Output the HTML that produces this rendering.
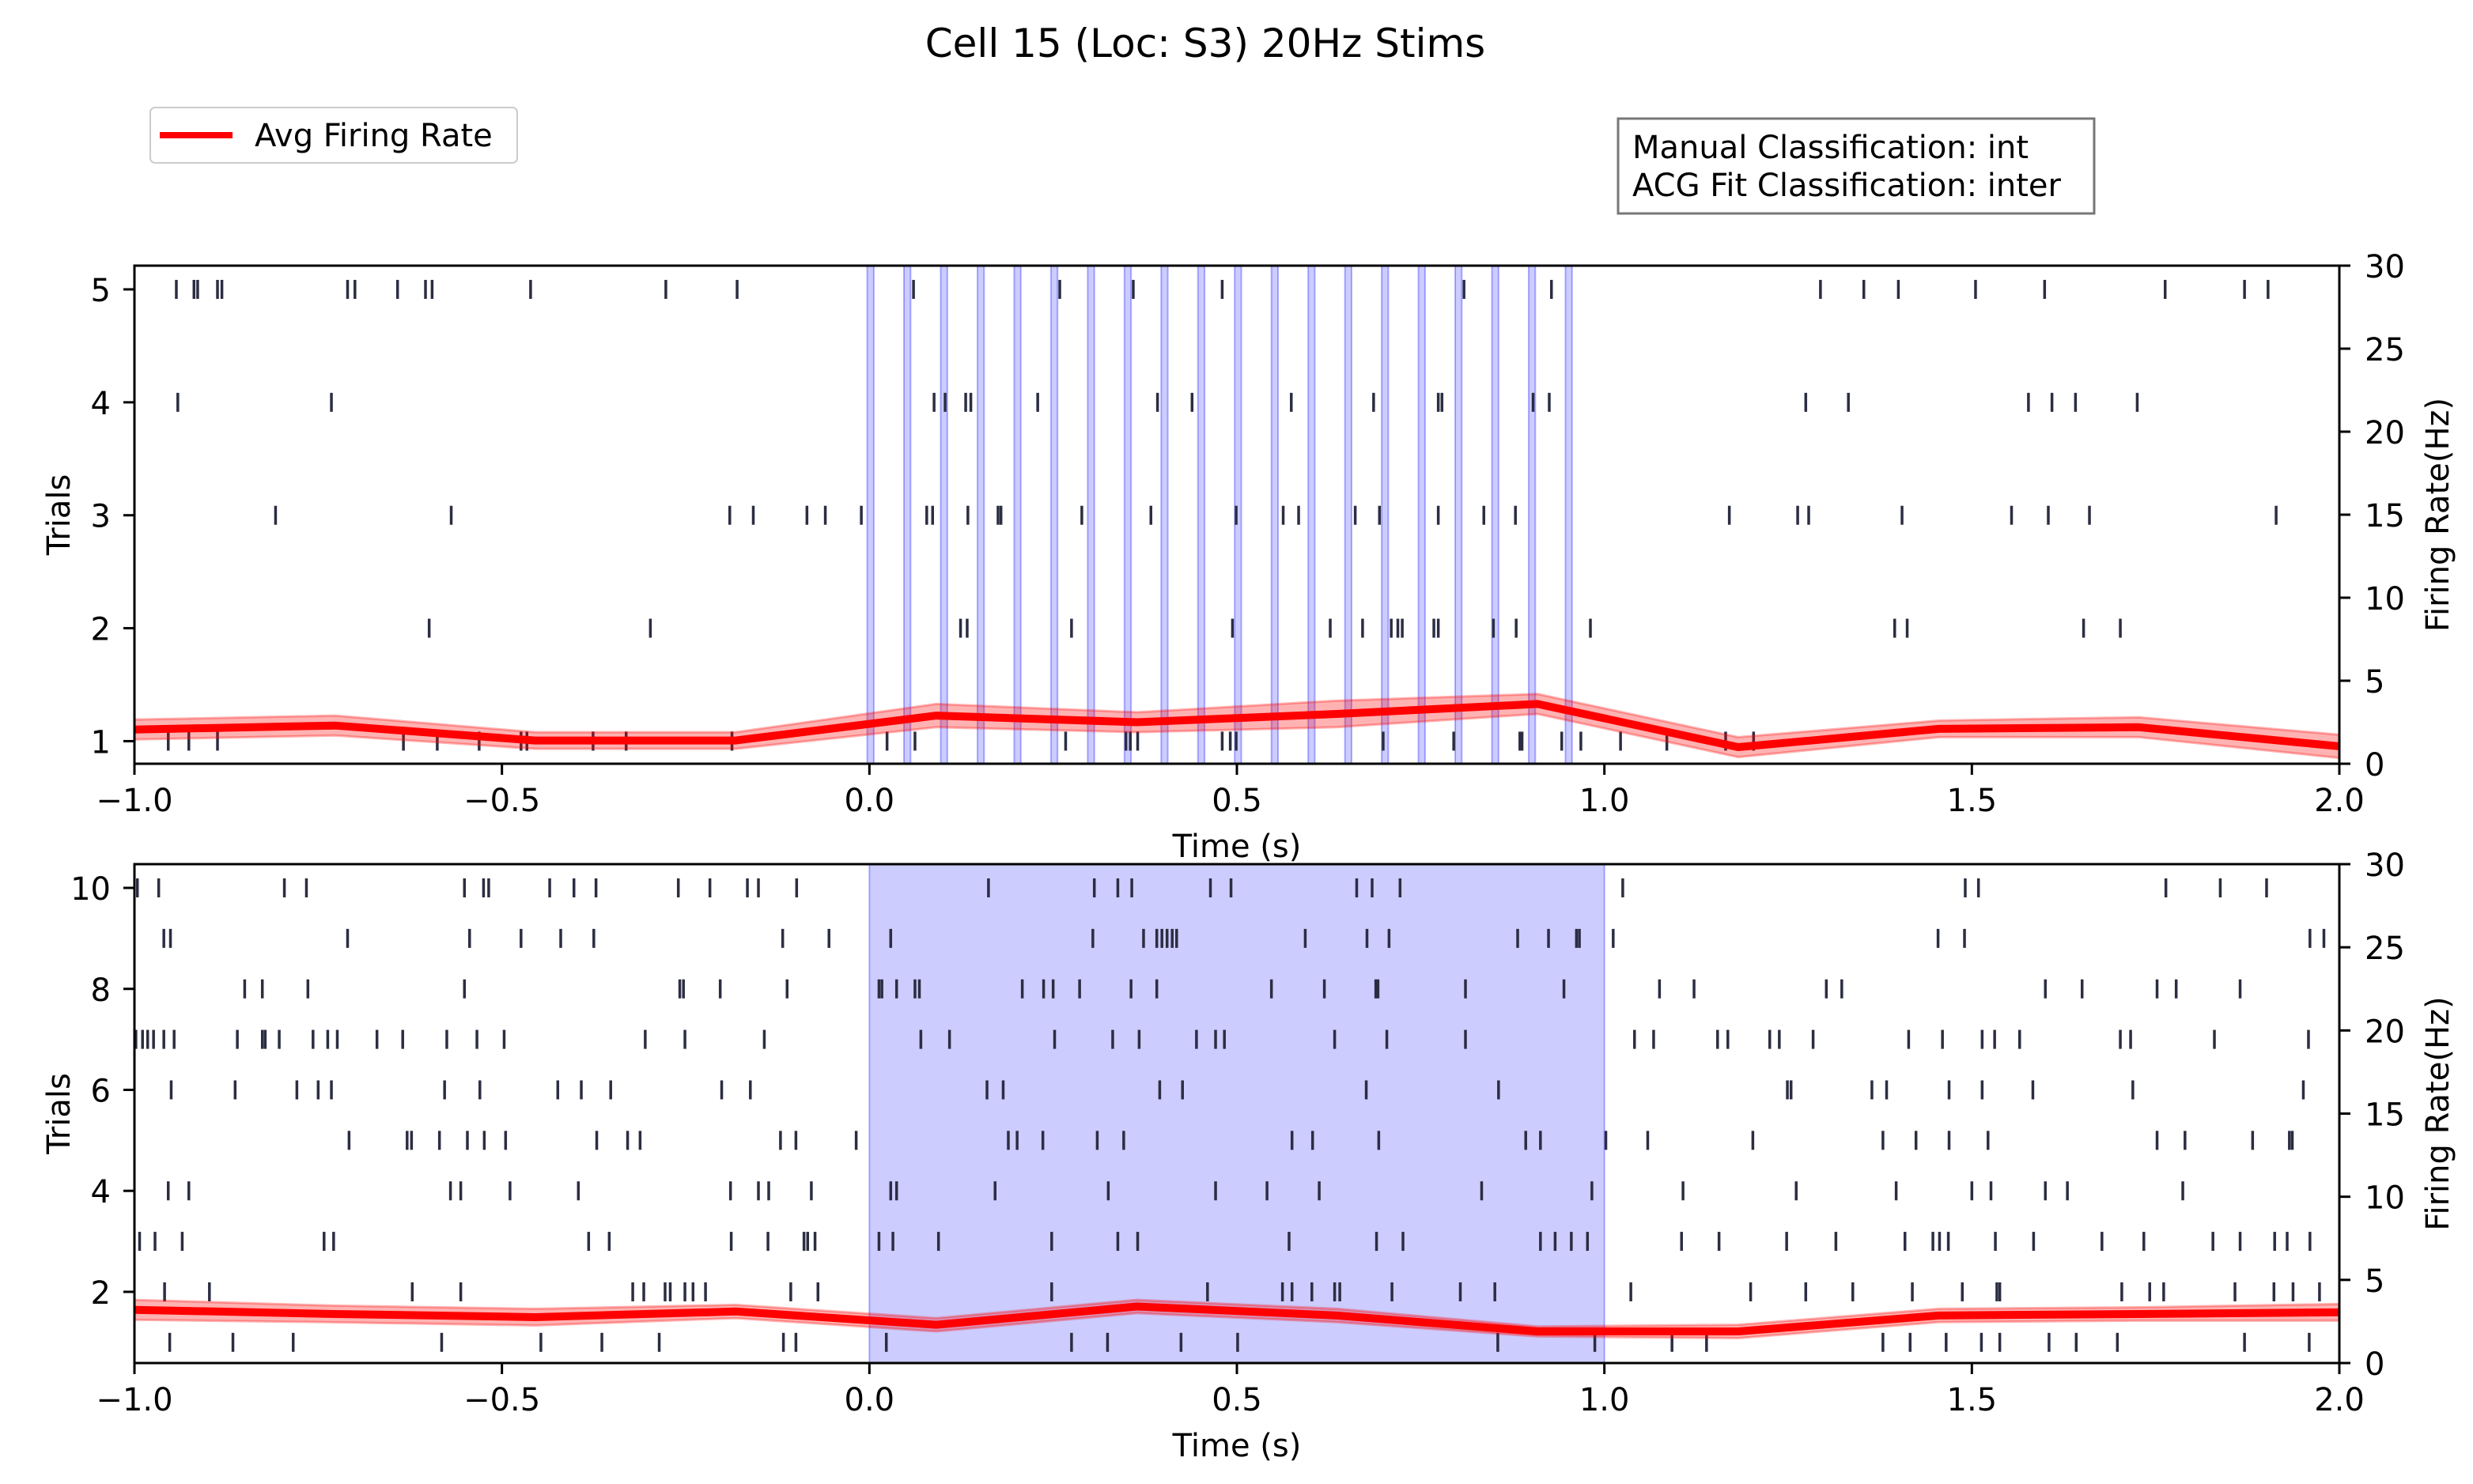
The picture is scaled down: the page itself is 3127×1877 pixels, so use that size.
<!DOCTYPE html>
<html><head><meta charset="utf-8">
<style>
html,body{margin:0;padding:0;background:#fff;}
svg{display:block;font-family:"DejaVu Sans","Liberation Sans",sans-serif;}
</style></head>
<body>
<svg id="fig" width="3127" height="1877" viewBox="0 0 3127 1877" xmlns="http://www.w3.org/2000/svg">
<rect x="0" y="0" width="3127" height="1877" fill="#fff"/>
<text x="1524" y="72" font-size="50" text-anchor="middle">Cell 15 (Loc: S3) 20Hz Stims</text>
<g>
<rect x="190" y="136" width="464" height="70" rx="6" fill="#fff" stroke="#ccc" stroke-width="2"/>
<line x1="202" y1="171" x2="294" y2="171" stroke="#ff0000" stroke-width="8"/>
<text x="322" y="185" font-size="40">Avg Firing Rate</text>
</g>
<g>
<rect x="2046" y="150" width="602" height="120" fill="#fff" stroke="#777" stroke-width="3"/>
<text x="2064" y="200" font-size="40">Manual Classification: int</text>
<text x="2064" y="248" font-size="40">ACG Fit Classification: inter</text>
</g>
<g id="top"></g>
<g id="bot"></g>
</svg>
<script>
// ---- data ----
var rateTimes = [-1, -0.727, -0.455, -0.182, 0.091, 0.364, 0.636, 0.909, 1.182, 1.455, 1.727, 2.0];
var topRate = [2.06, 2.3, 1.4, 1.4, 2.9, 2.5, 3.0, 3.6, 1.0, 2.1, 2.2, 1.05];
var topErr = [0.6, 0.6, 0.5, 0.5, 0.7, 0.6, 0.8, 0.6, 0.6, 0.5, 0.6, 0.7];
var botRate = [3.2, 2.95, 2.76, 3.1, 2.3, 3.4, 2.86, 1.9, 1.9, 2.86, 2.95, 3.05];
var botErr = [0.6, 0.5, 0.5, 0.4, 0.4, 0.4, 0.4, 0.3, 0.4, 0.4, 0.4, 0.5];
var xTicks = [-1.0, -0.5, 0.0, 0.5, 1.0, 1.5, 2.0];
var xTickLabels = ["\u22121.0", "\u22120.5", "0.0", "0.5", "1.0", "1.5", "2.0"];
var topTrialTicks = [1, 2, 3, 4, 5];
var botTrialTicks = [2, 4, 6, 8, 10];
var rateTicks = [0, 5, 10, 15, 20, 25, 30];
var pulseStarts = [0,0.05,0.1,0.15,0.2,0.25,0.3,0.35,0.4,0.45,0.5,0.55,0.6,0.65,0.7,0.75,0.8,0.85,0.9,0.95];
var topSpikes = [
 [-0.954,-0.926,-0.887,-0.634,-0.588,-0.531,-0.474,-0.466,-0.376,-0.331,-0.187,0.024,0.062,0.267,0.349,0.355,0.365,0.480,0.491,0.499,0.699,0.795,0.885,0.888,0.942,0.968,1.022,1.085,1.165,1.203],
 [-0.599,-0.298,0.124,0.133,0.275,0.494,0.627,0.671,0.710,0.719,0.725,0.768,0.774,0.849,0.880,0.981,1.395,1.412,1.652,1.702],
 [-0.808,-0.569,-0.190,-0.158,-0.085,-0.060,-0.011,0.078,0.086,0.134,0.175,0.179,0.289,0.383,0.499,0.563,0.584,0.661,0.694,0.774,0.836,0.879,1.170,1.263,1.278,1.405,1.554,1.604,1.660,1.914],
 [-0.941,-0.732,0.088,0.103,0.131,0.138,0.229,0.392,0.439,0.574,0.686,0.774,0.779,0.903,0.925,1.274,1.332,1.577,1.609,1.641,1.725],
 [-0.943,-0.919,-0.914,-0.887,-0.881,-0.710,-0.700,-0.642,-0.604,-0.595,-0.461,-0.277,-0.180,0.060,0.259,0.359,0.480,0.809,0.928,1.294,1.353,1.400,1.505,1.599,1.763,1.871,1.903]
];
var botSpikes = [
 [-0.952,-0.866,-0.784,-0.582,-0.447,-0.364,-0.286,-0.117,-0.100,0.023,0.275,0.324,0.424,0.501,0.855,0.987,1.092,1.139,1.379,1.416,1.465,1.513,1.538,1.605,1.642,1.698,1.871,1.959],
 [-0.959,-0.898,-0.622,-0.556,-0.322,-0.307,-0.278,-0.271,-0.251,-0.240,-0.223,-0.107,-0.070,0.248,0.460,0.562,0.575,0.602,0.633,0.640,0.711,0.804,0.851,1.036,1.199,1.274,1.338,1.419,1.487,1.534,1.538,1.704,1.742,1.761,1.858,1.911,1.937,1.973],
 [-0.993,-0.972,-0.935,-0.742,-0.729,-0.382,-0.354,-0.188,-0.138,-0.089,-0.084,-0.074,0.013,0.032,0.094,0.248,0.338,0.365,0.571,0.690,0.726,0.913,0.933,0.955,0.977,1.105,1.156,1.248,1.315,1.409,1.447,1.456,1.468,1.532,1.584,1.677,1.734,1.828,1.865,1.912,1.929,1.960],
 [-0.954,-0.926,-0.570,-0.556,-0.489,-0.396,-0.189,-0.151,-0.137,-0.079,0.029,0.037,0.171,0.325,0.471,0.541,0.612,0.833,0.983,1.107,1.261,1.397,1.500,1.526,1.600,1.630,1.787],
 [-0.708,-0.629,-0.623,-0.585,-0.547,-0.524,-0.495,-0.371,-0.329,-0.312,-0.121,-0.100,-0.018,0.189,0.201,0.236,0.310,0.346,0.575,0.603,0.693,0.893,0.913,1.002,1.059,1.202,1.379,1.424,1.469,1.522,1.752,1.790,1.882,1.932,1.936],
 [-0.950,-0.863,-0.779,-0.750,-0.732,-0.578,-0.530,-0.424,-0.392,-0.352,-0.201,-0.162,0.160,0.182,0.395,0.426,0.676,0.856,1.249,1.254,1.364,1.384,1.469,1.514,1.583,1.719,1.951],
 [-0.998,-0.989,-0.982,-0.974,-0.960,-0.946,-0.860,-0.826,-0.822,-0.803,-0.757,-0.737,-0.724,-0.670,-0.635,-0.575,-0.534,-0.497,-0.305,-0.251,-0.143,0.070,0.109,0.252,0.331,0.367,0.445,0.471,0.483,0.633,0.704,0.811,1.041,1.067,1.154,1.168,1.225,1.238,1.284,1.414,1.460,1.514,1.531,1.565,1.702,1.716,1.830,1.958],
 [-0.850,-0.826,-0.764,-0.551,-0.258,-0.253,-0.203,-0.112,0.013,0.017,0.037,0.062,0.068,0.208,0.237,0.250,0.286,0.356,0.391,0.547,0.619,0.689,0.692,0.811,0.945,1.075,1.122,1.302,1.323,1.600,1.650,1.752,1.778,1.865],
 [-0.960,-0.951,-0.710,-0.544,-0.474,-0.420,-0.375,-0.118,-0.055,0.029,0.304,0.373,0.391,0.398,0.405,0.412,0.418,0.593,0.677,0.707,0.882,0.924,0.962,0.966,1.012,1.454,1.490,1.960,1.979],
 [-0.996,-0.967,-0.796,-0.766,-0.551,-0.525,-0.518,-0.435,-0.402,-0.372,-0.260,-0.217,-0.166,-0.151,-0.099,0.162,0.306,0.338,0.357,0.464,0.492,0.663,0.684,0.722,1.025,1.491,1.509,1.764,1.838,1.901]
];
// ---- drawing ----
var NS = "http://www.w3.org/2000/svg";
function mk(parent, tag, attrs) {
  var e = document.createElementNS(NS, tag);
  for (var k in attrs) e.setAttribute(k, attrs[k]);
  parent.appendChild(e);
  return e;
}
function panel(g, top, bottom, ymin, ymax, trialTicks, spikes, rate, err, mode) {
  var L = 170, R = 2958;
  function xs(t) { return L + (t + 1) / 3 * (R - L); }
  function ys(v) { return bottom - (v - ymin) / (ymax - ymin) * (bottom - top); }
  function yr(h) { return bottom - h / 30 * (bottom - top); }
  if (mode === "pulses") {
    pulseStarts.forEach(function (p) {
      var r = mk(g, "rect", {x: xs(p - 0.003), y: top, width: xs(0.009) - xs(0), height: bottom - top, fill: "rgba(0,0,255,0.2)", stroke: "rgba(0,0,255,0.3)", "stroke-width": 2});
      
      
    });
  } else {
    var r = mk(g, "rect", {x: xs(0), y: top, width: xs(1) - xs(0), height: bottom - top, fill: "rgba(0,0,255,0.2)", stroke: "rgba(0,0,255,0.3)", "stroke-width": 2});
    
    
  }
  spikes.forEach(function (row, i) {
    var trial = i + 1;
    row.forEach(function (t) {
      var l = mk(g, "line", {x1: xs(t), x2: xs(t), y1: ys(trial) - 12, y2: ys(trial) + 12, stroke: "#2b2d42", "stroke-width": 3.5});
      
      
    });
  });
  var up = "", lo = "";
  rateTimes.forEach(function (t, i) { up += (i ? " L" : "M") + xs(t) + "," + yr(rate[i] + err[i]); });
  for (var i = rateTimes.length - 1; i >= 0; i--) lo += " L" + xs(rateTimes[i]) + "," + yr(rate[i] - err[i]);
  var band = mk(g, "path", {d: up + lo + " Z", fill: "rgba(255,0,0,0.3)", stroke: "rgba(255,0,0,0.3)", "stroke-width": 3});
  
  
  var pts = rateTimes.map(function (t, i) { return xs(t) + "," + yr(rate[i]); }).join(" ");
  var pl = mk(g, "polyline", {points: pts, fill: "none", stroke: "#ff0000", "stroke-width": 10, "stroke-linejoin": "round"});
  
  
  var fr = mk(g, "rect", {x: L, y: top, width: R - L, height: bottom - top, fill: "none", stroke: "#000", "stroke-width": 3});
  
  
  xTicks.forEach(function (t, i) {
    mk(g, "line", {x1: xs(t), x2: xs(t), y1: bottom, y2: bottom + 14, stroke: "#000", "stroke-width": 3});
    var tx = mk(g, "text", {x: xs(t), y: bottom + 60, "font-size": 40, "text-anchor": "middle"});
    tx.textContent = xTickLabels[i];
    
    
  });
  trialTicks.forEach(function (v) {
    mk(g, "line", {x1: L - 14, x2: L, y1: ys(v), y2: ys(v), stroke: "#000", "stroke-width": 3});
    var tx = mk(g, "text", {x: L - 30, y: ys(v) + 15, "font-size": 40, "text-anchor": "end"});
    tx.textContent = v;
    
    
  });
  rateTicks.forEach(function (v) {
    mk(g, "line", {x1: R, x2: R + 14, y1: yr(v), y2: yr(v), stroke: "#000", "stroke-width": 3});
    var tx = mk(g, "text", {x: R + 32, y: yr(v) + 15, "font-size": 40});
    tx.textContent = v;
    
    
  });
  var xl = mk(g, "text", {x: (L + R) / 2, y: bottom + 118, "font-size": 40, "text-anchor": "middle"});
  xl.textContent = "Time (s)";
  
  
  var cy = (top + bottom) / 2;
  var yl = mk(g, "text", {x: 0, y: 0, "font-size": 40, "text-anchor": "middle", transform: "translate(88," + cy + ") rotate(-90)"});
  yl.textContent = "Trials";
  
  
  var yr2 = mk(g, "text", {x: 0, y: 0, "font-size": 40, "text-anchor": "middle", transform: "translate(3096," + cy + ") rotate(-90)"});
  yr2.textContent = "Firing Rate(Hz)";
  
  
}
panel(document.getElementById("top"), 336, 966, 0.8, 5.21, topTrialTicks, topSpikes, topRate, topErr, "pulses");
panel(document.getElementById("bot"), 1093, 1724, 0.59, 10.47, botTrialTicks, botSpikes, botRate, botErr, "block");
</script>
</body></html>
